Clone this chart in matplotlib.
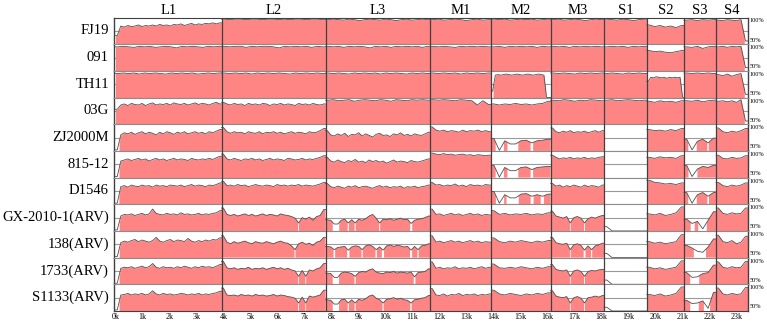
import numpy as np
import matplotlib
matplotlib.use('Agg')
import matplotlib.pyplot as plt

# ---------------- data ----------------
SEGMENTS = ['L1', 'L2', 'L3', 'M1', 'M2', 'M3', 'S1', 'S2', 'S3', 'S4']
BOUNDS_K = [0.0, 3.93, 7.78, 11.66, 13.92, 16.12, 18.10, 19.68, 21.06, 22.25, 23.42]
TICKS_K = list(range(24))
TICK_LABELS = [f'{k}k' for k in TICKS_K]
STRAINS = ['FJ19', '091', 'TH11', '03G', 'ZJ2000M', '815-12', 'D1546',
           'GX-2010-1(ARV)', '138(ARV)', '1733(ARV)', 'S1133(ARV)']

# identity (%) per window, one list per genome segment (L1 ... S4)
FJ19 = [
    [66, 84, 82, 85, 83, 84, 86, 83, 85, 84, 86, 84, 87, 85, 86, 84, 87, 86, 88, 85, 87, 89, 86, 88, 87, 89, 88, 90, 88, 90],
    [97, 96, 97, 97, 96, 97, 97, 96, 97, 97, 96, 97, 96, 97, 97, 96, 97, 97, 96],
    [96, 97, 96, 95, 97, 96, 94, 96, 97, 96, 95, 97, 96, 94, 96, 97, 95, 96, 97, 96],
    [96, 97, 95, 96, 97, 96, 94, 96, 97, 95, 96],
    [97, 96, 97, 95, 96, 97, 96, 97, 95, 96, 97],
    [96, 97, 95, 96, 97, 96, 94, 96, 97, 96],
    [97, 96, 95, 97, 96, 94, 96, 97],
    [86, 83, 85, 82, 84, 81, 85],
    [95, 96, 94, 96, 95, 96],
    [95, 94, 96, 95, 94, 96, 56],
]
S091 = [
    [95, 96, 95, 94, 96, 95, 96, 94, 95, 96, 95, 93, 96, 95, 96, 95, 94, 96, 95, 96],
    [96, 95, 96, 96, 94, 96, 95, 96, 96, 95, 93, 96, 95, 96, 95, 96, 94, 96, 95],
    [96, 95, 96, 94, 96, 95, 96, 95, 93, 96, 95, 96, 94, 96, 95, 96, 95, 96, 94, 96],
    [96, 95, 96, 95, 94, 96, 95, 96, 95, 96, 95],
    [95, 96, 94, 96, 95, 96, 95, 96, 94, 96, 95],
    [96, 95, 96, 94, 96, 95, 96, 95, 96, 95],
    [95, 96, 95, 96, 94, 96, 95, 96],
    [88, 86, 87, 85, 84, 86, 88],
    [95, 94, 96, 92, 95, 96],
    [95, 96, 94, 96, 95, 96, 56],
]
TH11 = [
    [95, 96, 95, 96, 94, 96, 95, 96, 95, 94, 96, 95, 96, 95, 96, 94, 95, 96, 95, 96],
    [96, 95, 96, 95, 96, 94, 96, 95, 96, 95, 96, 95, 94, 96, 95, 96, 95, 96, 95],
    [96, 95, 96, 95, 94, 96, 95, 96, 95, 96, 94, 96, 95, 96, 95, 94, 96, 95, 96, 95],
    [96, 95, 96, 95, 96, 94, 96, 95, 96, 95, 96],
    [62, 92, 93, 92, 93, 94, 93, 92, 93, 94, 93, 92, 93, 94, 93, 92, 93, 94, 93, 92, 50, 50],
    [96, 95, 96, 95, 94, 96, 95, 96, 95, 96],
    [95, 96, 95, 94, 96, 95, 96, 95],
    [80, 88, 87, 89, 88, 87, 88, 86, 88, 87, 88, 87, 88, 50],
    [96, 95, 96, 95, 96, 95],
    [93, 91, 94, 90, 93, 95, 56],
]
G03 = [
    [78, 86, 88, 85, 89, 87, 86, 89, 85, 88, 90, 86, 88, 87, 89, 86, 90, 88, 87, 89, 86, 88, 90, 87, 89, 88, 86, 89, 91, 88],
    [91, 88, 86, 89, 87, 88, 85, 89, 87, 88, 86, 89, 88, 85, 88, 87, 89, 86, 88, 87, 85, 89, 87, 88, 86, 89, 87, 86, 88],
    [95, 96, 94, 95, 96, 93, 95, 96, 95, 94, 96, 95, 93, 96, 95, 94, 96, 95, 96, 95],
    [96, 95, 96, 95, 94, 96, 95, 94, 86, 94, 87],
    [88, 86, 88, 87, 89, 87, 88, 86, 88, 89, 93],
    [95, 94, 96, 95, 93, 95, 94, 96, 95, 94],
    [95, 96, 94, 95, 96, 95, 94, 95],
    [93, 91, 94, 92, 93, 91, 94],
    [94, 93, 95, 92, 94, 95],
    [93, 94, 92, 94, 91, 96, 56],
]
ZJ2000M = [
    [52, 80, 84, 82, 85, 81, 84, 86, 82, 85, 83, 80, 85, 82, 86, 84, 81, 85, 83, 86, 82, 84, 86, 83, 85, 82, 86, 84, 87, 90],
    [94, 86, 83, 86, 84, 85, 82, 86, 84, 83, 86, 82, 85, 84, 86, 83, 85, 82, 84, 86, 83, 85, 84, 82, 86, 84, 85, 88, 92],
    [88, 80, 78, 82, 79, 83, 77, 81, 80, 84, 78, 82, 79, 76, 81, 83, 79, 80, 77, 82, 80, 84, 79, 81, 78, 82, 80, 79, 82, 85],
    [95, 89, 87, 89, 86, 88, 87, 85, 89, 86, 88, 87, 89, 86, 88, 86],
    [73, 51, 69, 63, 63, 69, 70, 65, 69, 70, 72],
    [93, 86, 84, 87, 85, 88, 84, 86, 85, 87, 84, 86, 88, 85, 88],
    [50, 50, 50, 50, 50, 50, 50, 50],
    [90, 88, 89, 87, 90, 88, 92],
    [72, 52, 68, 72, 65, 74],
    [93, 86, 84, 87, 85, 88, 92],
]
S815_12 = [
    [52, 81, 83, 85, 82, 84, 86, 83, 85, 81, 84, 86, 83, 85, 82, 84, 86, 83, 85, 84, 82, 86, 84, 83, 85, 84, 86, 84, 87, 90],
    [94, 85, 83, 86, 84, 82, 85, 84, 86, 83, 85, 82, 84, 86, 83, 85, 84, 82, 86, 85, 83, 84, 86, 83, 85, 84, 86, 88, 91],
    [88, 81, 79, 83, 80, 78, 82, 80, 84, 79, 81, 78, 83, 80, 82, 79, 81, 77, 80, 83, 79, 81, 80, 78, 82, 80, 79, 81, 83, 85],
    [96, 94, 93, 95, 93, 94, 92, 93, 94, 92, 93, 91, 93, 92, 91, 92],
    [73, 51, 69, 63, 63, 69, 70, 65, 69, 70, 71],
    [92, 88, 85, 87, 86, 88, 85, 87, 86, 88, 85, 87, 86, 88, 89],
    [50, 50, 50, 50, 50, 50, 50, 50],
    [88, 86, 89, 87, 88, 86, 91],
    [73, 52, 66, 71, 69, 73],
    [92, 86, 85, 88, 86, 87, 91],
]
D1546 = [
    [52, 83, 85, 82, 86, 84, 83, 86, 84, 85, 82, 86, 84, 85, 83, 86, 85, 84, 86, 83, 85, 87, 84, 86, 85, 83, 86, 85, 87, 90],
    [93, 85, 86, 84, 87, 85, 86, 83, 85, 87, 85, 84, 86, 85, 83, 87, 85, 86, 84, 86, 85, 87, 84, 86, 85, 84, 86, 88, 91],
    [89, 83, 81, 84, 82, 80, 84, 82, 85, 81, 83, 84, 82, 80, 83, 85, 82, 84, 81, 83, 82, 84, 80, 83, 82, 84, 81, 83, 84, 86],
    [91, 86, 87, 84, 86, 85, 88, 84, 86, 83, 87, 85, 86, 84, 87, 86],
    [74, 52, 68, 62, 62, 69, 70, 65, 68, 65, 69],
    [89, 84, 86, 82, 85, 83, 86, 84, 82, 86, 83, 85, 84, 82, 86],
    [50, 50, 50, 50, 50, 50, 50, 50],
    [95, 91, 90, 88, 89, 87, 90],
    [72, 52, 68, 72, 65, 72],
    [91, 85, 83, 86, 84, 86, 90],
]
GX2010 = [
    [52, 78, 81, 80, 82, 79, 81, 83, 80, 82, 91, 83, 81, 80, 83, 81, 82, 80, 84, 81, 82, 80, 81, 83, 80, 82, 81, 83, 84, 88],
    [93, 81, 79, 81, 78, 80, 82, 79, 81, 78, 80, 82, 79, 81, 80, 78, 82, 80, 79, 77, 74, 65, 75, 72, 76, 70, 77, 79, 90],
    [71, 70, 63, 63, 70, 72, 65, 71, 65, 72, 70, 73, 78, 81, 74, 65, 72, 71, 73, 70, 72, 74, 71, 72, 64, 70, 72, 73, 75, 78],
    [91, 81, 82, 79, 81, 83, 80, 82, 79, 81, 83, 80, 82, 79, 81, 80],
    [88, 81, 83, 80, 82, 81, 83, 80, 82, 81, 84],
    [87, 78, 76, 74, 77, 65, 75, 77, 74, 65, 73, 76, 74, 77, 79],
    [58, 50, 50, 50, 50, 50, 50, 50],
    [82, 80, 83, 79, 81, 84, 95],
    [72, 64, 68, 54, 70, 86],
    [93, 83, 81, 84, 82, 83, 93],
]
S138 = [
    [52, 78, 81, 79, 82, 84, 80, 83, 81, 79, 82, 88, 81, 79, 82, 84, 80, 83, 82, 80, 86, 81, 79, 82, 80, 83, 81, 84, 83, 87],
    [91, 79, 76, 80, 77, 79, 81, 78, 76, 80, 78, 77, 80, 78, 76, 79, 81, 78, 77, 72, 65, 76, 79, 75, 77, 73, 79, 81, 88],
    [71, 70, 65, 69, 70, 71, 64, 70, 72, 71, 65, 72, 74, 71, 65, 70, 64, 72, 74, 71, 73, 72, 70, 71, 64, 71, 65, 72, 73, 76],
    [91, 79, 81, 78, 80, 82, 79, 81, 78, 80, 82, 79, 81, 78, 80, 79],
    [87, 80, 78, 81, 79, 82, 80, 78, 81, 79, 82],
    [88, 78, 76, 75, 77, 65, 74, 76, 73, 64, 72, 65, 72, 74, 77],
    [58, 50, 50, 50, 50, 50, 50, 50],
    [80, 77, 79, 76, 78, 80, 93],
    [73, 68, 62, 60, 70, 85],
    [92, 80, 78, 82, 76, 79, 90],
]
S1733 = [
    [52, 80, 82, 81, 83, 80, 82, 84, 81, 83, 89, 82, 80, 83, 81, 82, 80, 83, 81, 84, 82, 80, 83, 81, 84, 82, 83, 81, 84, 87],
    [93, 81, 79, 81, 78, 80, 79, 82, 78, 80, 79, 81, 78, 80, 82, 79, 81, 78, 80, 77, 75, 65, 76, 65, 77, 75, 79, 81, 89],
    [71, 70, 63, 63, 71, 73, 72, 70, 65, 72, 74, 73, 77, 79, 73, 71, 70, 73, 72, 74, 71, 73, 72, 71, 73, 64, 72, 73, 74, 79],
    [92, 80, 82, 79, 81, 80, 83, 79, 81, 80, 82, 79, 81, 83, 80, 82],
    [88, 81, 80, 82, 80, 83, 81, 79, 82, 80, 83],
    [87, 78, 76, 75, 77, 65, 75, 77, 74, 65, 74, 76, 75, 77, 78],
    [58, 50, 50, 50, 50, 50, 50, 50],
    [82, 79, 81, 78, 80, 82, 94],
    [72, 63, 64, 70, 72, 86],
    [92, 82, 80, 83, 81, 82, 93],
]
S1133 = [
    [52, 80, 81, 83, 80, 82, 81, 83, 80, 82, 88, 82, 80, 83, 81, 82, 80, 81, 83, 82, 80, 82, 81, 83, 80, 82, 81, 83, 84, 87],
    [93, 80, 79, 80, 78, 81, 79, 80, 78, 81, 79, 80, 78, 79, 81, 78, 80, 79, 77, 76, 74, 65, 76, 65, 78, 76, 78, 80, 89],
    [71, 70, 63, 63, 71, 72, 65, 71, 65, 72, 70, 73, 78, 80, 74, 71, 65, 72, 73, 75, 72, 74, 71, 70, 65, 71, 72, 74, 75, 79],
    [92, 80, 79, 82, 78, 81, 80, 83, 79, 81, 80, 82, 79, 81, 80, 82],
    [89, 82, 80, 83, 81, 79, 82, 80, 83, 81, 84],
    [88, 78, 76, 75, 77, 65, 75, 77, 74, 65, 75, 76, 78, 76, 79],
    [57, 50, 50, 50, 50, 50, 50, 50],
    [81, 79, 82, 78, 80, 83, 95],
    [70, 64, 65, 69, 55, 85],
    [93, 82, 80, 83, 81, 82, 94],
]
ROWS = [FJ19, S091, TH11, G03, ZJ2000M, S815_12, D1546, GX2010, S138, S1733, S1133]
THRESHOLD = 66   # windows below this identity are not shaded

# ---------------- drawing ----------------
W, H = 767, 323
fig = plt.figure(figsize=(W / 100, H / 100), dpi=100)
SERIF = ['Liberation Serif', 'DejaVu Serif']
x0, x1 = 114 / W, 748 / W
ytop, ybot = 1 - 17.5 / H, 1 - 311 / H
rh = (ytop - ybot) / len(ROWS)
XMIN, XMAX = -0.055, 23.43
PINK = '#ff8484'
LINE = '#505050'
GRIDC = '#9a9a9a'
DARK = '#404040'

for r, (name, segs) in enumerate(zip(STRAINS, ROWS)):
    ax = fig.add_axes([x0, ytop - (r + 1) * rh, x1 - x0, rh])
    ax.set_xlim(XMIN, XMAX)
    ax.set_ylim(50, 100)
    ax.axhline(75, color=GRIDC, lw=0.8, zorder=1)
    for s, vals in enumerate(segs):
        b0, b1 = BOUNDS_K[s], BOUNDS_K[s + 1]
        n = len(vals)
        step = (b1 - b0) / n
        xc = b0 + step * (np.arange(n) + 0.5)
        xs = np.concatenate([[b0], xc, [b1]])
        ys = np.concatenate([[vals[0]], vals, [vals[-1]]]).astype(float)
        xf = np.linspace(b0, b1, int((b1 - b0) * 400) + 2)
        yf = np.interp(xf, xs, ys)
        ax.fill_between(xf, 50, yf, where=yf >= THRESHOLD, color=PINK, lw=0, zorder=2)
        ax.plot(xs, ys, color=LINE, lw=0.6, zorder=3)
    for b in BOUNDS_K[1:-1]:
        ax.axvline(b, color=DARK, lw=0.9, zorder=4)
    ax.set_yticks([])
    for sp in ['top', 'bottom']:
        ax.spines[sp].set_color('#8c8c8c')
        ax.spines[sp].set_linewidth(0.8)
    for sp in ['left', 'right']:
        ax.spines[sp].set_color(DARK)
        ax.spines[sp].set_linewidth(1.0)
    if r == 0:
        ax.spines['top'].set_color(DARK)
    ax.text(-0.008, 0.5, name, transform=ax.transAxes, ha='right', va='center',
            fontsize=10.5, family=SERIF)
    ax.text(1.002, 0.87, '100%', transform=ax.transAxes, ha='left', va='center',
            fontsize=4.5, family=SERIF)
    ax.text(1.002, 0.15, '50%', transform=ax.transAxes, ha='left', va='center',
            fontsize=4.5, family=SERIF)
    if r == len(ROWS) - 1:
        ax.spines['bottom'].set_color(DARK)
        ax.set_xticks(TICKS_K)
        ax.set_xticklabels(TICK_LABELS, family=SERIF, fontsize=5.8)
        ax.tick_params(axis='x', length=0, pad=1.5)
    else:
        ax.set_xticks([])

for s, seg in enumerate(SEGMENTS):
    c = (BOUNDS_K[s] + BOUNDS_K[s + 1]) / 2
    xfrac = x0 + (c - XMIN) / (XMAX - XMIN) * (x1 - x0)
    fig.text(xfrac, 1 - 10 / H, seg, ha='center', va='center', fontsize=10.5, family=SERIF)

fig.savefig('out.png', dpi=100)
